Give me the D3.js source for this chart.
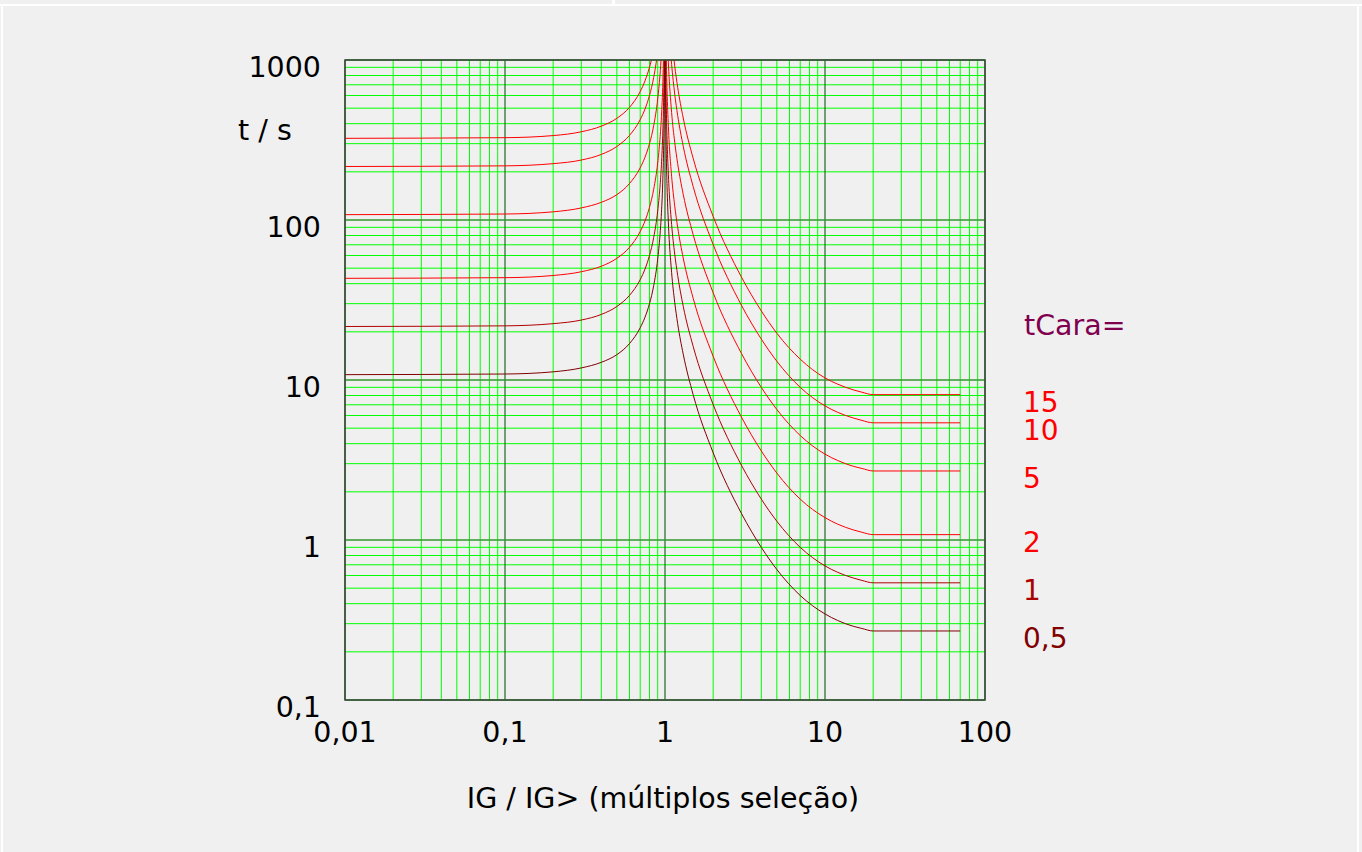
<!DOCTYPE html>
<meta charset="utf-8">
<style>

body {
  margin: 0;
  background: #f0f0f0;
}

svg {
  display: block;
  font-family: "DejaVu Sans", sans-serif;
}

.minor line {
  stroke: #00ff00;
  stroke-width: 1px;
}

.curves path {
  fill: none;
  stroke-width: 1px;
}

</style>
<svg width="1362" height="852"></svg>
<script src="https://cdn.jsdelivr.net/npm/d3@7"></script>
<script>

var xTicks = [0.01, 0.1, 1, 10, 100];
var xTickLabels = ["0,01", "0,1", "1", "10", "100"];
var yTicks = [0.1, 1, 10, 100, 1000];
var yTickLabels = ["0,1", "1", "10", "100", "1000"];

var tCara = [15, 10, 5, 2, 1, 0.5];
var tCaraLabels = ["15", "10", "5", "2", "1", "0,5"];
var tCaraColors = ["#ff0000", "#ff0000", "#ff0000", "#ff0000", "#b00000", "#800000"];

// IG/IG> below 1: [multiple, t in s]
var reset15 = [[0.01, 324], [0.1, 327], [0.2, 337], [0.3, 356], [0.4, 386], [0.5, 432], [0.6, 506],
  [0.7, 635], [0.75, 741], [0.8, 900], [0.82, 989], [0.83, 1041]];
var reset10 = [[0.01, 216], [0.1, 218], [0.2, 225], [0.3, 237], [0.4, 257], [0.5, 288], [0.6, 338],
  [0.7, 424], [0.75, 494], [0.8, 600], [0.85, 778], [0.88, 957], [0.89, 1039]];
var reset5 = [[0.01, 108], [0.1, 109], [0.2, 112.5], [0.3, 119], [0.4, 129], [0.5, 144], [0.6, 169],
  [0.7, 212], [0.75, 247], [0.8, 300], [0.85, 389], [0.9, 569], [0.93, 800], [0.94, 928], [0.95, 1108]];
var reset2 = [[0.01, 43.2], [0.1, 43.6], [0.2, 45], [0.3, 47.5], [0.4, 51.4], [0.5, 57.6], [0.6, 67.5],
  [0.7, 84.7], [0.75, 98.7], [0.8, 120], [0.85, 155.7], [0.9, 227], [0.93, 320], [0.95, 443],
  [0.97, 731], [0.98, 1091]];
var reset1 = [[0.01, 21.6], [0.1, 21.8], [0.2, 22.5], [0.3, 23.7], [0.4, 25.7], [0.5, 28.8], [0.6, 33.8],
  [0.7, 42.4], [0.75, 49.4], [0.8, 60], [0.85, 77.8], [0.9, 113.7], [0.93, 160], [0.95, 221.5],
  [0.97, 365.5], [0.98, 545.5], [0.985, 725], [0.99, 1085]];
var reset05 = [[0.01, 10.8], [0.1, 10.9], [0.2, 11.25], [0.3, 11.9], [0.4, 12.9], [0.5, 14.4], [0.6, 16.9],
  [0.7, 21.2], [0.75, 24.7], [0.8, 30], [0.85, 38.9], [0.9, 56.8], [0.93, 80], [0.95, 110.8],
  [0.97, 182.7], [0.98, 272.7], [0.99, 542.6], [0.993, 774], [0.995, 1083]];

// IG/IG> above 1
var trip15 = [[1.13, 1070], [1.15, 919.5], [1.2, 675.9], [1.3, 433.7], [1.5, 242.7], [2, 105.4], [3, 44.1],
  [4, 27.0], [5, 19.6], [7, 13.5], [10, 10.3], [12, 9.42], [15, 8.68], [17, 8.39], [20, 8.10], [70, 8.10]];
var trip10 = [[1.09, 1047], [1.1, 939], [1.15, 613], [1.2, 450.6], [1.3, 289.1], [1.5, 161.8], [2, 70.3],
  [3, 29.4], [4, 18.0], [5, 13.1], [7, 9.0], [10, 6.89], [12, 6.28], [15, 5.79], [17, 5.59], [20, 5.40],
  [70, 5.40]];
var trip5 = [[1.04, 1204], [1.05, 959], [1.1, 469], [1.15, 306.5], [1.2, 225.3], [1.3, 144.6], [1.5, 80.9],
  [2, 35.1], [3, 14.7], [4, 8.99], [5, 6.54], [7, 4.50], [10, 3.44], [12, 3.14], [15, 2.89], [17, 2.80],
  [20, 2.70], [70, 2.70]];
var trip2 = [[1.015, 1299], [1.02, 972], [1.03, 645], [1.05, 383.6], [1.1, 187.7], [1.15, 122.6], [1.2, 90.1],
  [1.3, 57.8], [1.5, 32.4], [2, 14.06], [3, 5.88], [4, 3.60], [5, 2.62], [7, 1.80], [10, 1.38],
  [12, 1.256], [15, 1.157], [17, 1.118], [20, 1.080], [70, 1.080]];
var trip1 = [[1.005, 1957], [1.01, 976], [1.02, 486], [1.03, 322.5], [1.05, 191.8], [1.1, 93.9], [1.15, 61.3],
  [1.2, 45.1], [1.3, 28.9], [1.5, 16.2], [2, 7.03], [3, 2.94], [4, 1.80], [5, 1.31], [7, 0.900],
  [10, 0.689], [12, 0.628], [15, 0.579], [17, 0.559], [20, 0.540], [70, 0.540]];
var trip05 = [[1.003, 1632], [1.005, 978], [1.01, 488], [1.02, 243], [1.03, 161.3], [1.05, 95.9], [1.1, 46.9],
  [1.15, 30.65], [1.2, 22.5], [1.3, 14.5], [1.5, 8.09], [2, 3.51], [3, 1.47], [4, 0.899], [5, 0.654],
  [7, 0.450], [10, 0.345], [12, 0.314], [15, 0.289], [17, 0.280], [20, 0.270], [70, 0.270]];

var resets = [reset15, reset10, reset5, reset2, reset1, reset05];
var trips = [trip15, trip10, trip5, trip2, trip1, trip05];

var svg = d3.select("svg");

var plotLeft = 345, plotRight = 985, plotTop = 60, plotBottom = 700;

var x = d3.scaleLog().domain([0.01, 100]).range([plotLeft, plotRight]);
var y = d3.scaleLog().domain([0.1, 1000]).range([plotBottom, plotTop]);

// page frame
svg.append("rect").attr("x", 0).attr("y", 4).attr("width", 1362).attr("height", 2).attr("fill", "#fff");
svg.append("rect").attr("x", 612).attr("y", 0).attr("width", 3).attr("height", 4).attr("fill", "#fff");
svg.append("rect").attr("x", 1).attr("y", 6).attr("width", 2).attr("height", 846).attr("fill", "#fff");
svg.append("rect").attr("x", 1357).attr("y", 6).attr("width", 2).attr("height", 846).attr("fill", "#fff");

// minor grid
var xMinor = x.ticks().filter(function(d) { return xTicks.indexOf(d) < 0; });
var yMinor = y.ticks().filter(function(d) { return yTicks.indexOf(d) < 0; });

var minor = svg.append("g").attr("class", "minor");
minor.selectAll(".vx").data(xMinor).enter().append("line")
    .attr("x1", x).attr("x2", x).attr("y1", plotTop).attr("y2", plotBottom);
minor.selectAll(".hy").data(yMinor).enter().append("line")
    .attr("y1", y).attr("y2", y).attr("x1", plotLeft).attr("x2", plotRight);

// decade grid
var major = svg.append("g");
major.selectAll(".vx").data(xTicks).enter().append("line")
    .attr("x1", x).attr("x2", x).attr("y1", plotTop).attr("y2", plotBottom)
    .attr("stroke", "#1e6a1e").attr("stroke-width", 1.2);
major.selectAll(".hy").data(yTicks).enter().append("line")
    .attr("y1", y).attr("y2", y).attr("x1", plotLeft).attr("x2", plotRight)
    .attr("stroke", "#2f9a2f").attr("stroke-width", 1.6);

// curves
svg.append("clipPath").attr("id", "plot")
  .append("rect").attr("x", plotLeft).attr("y", plotTop)
    .attr("width", plotRight - plotLeft).attr("height", plotBottom - plotTop);

var line = d3.line()
    .x(function(d) { return x(d[0]); })
    .y(function(d) { return y(d[1]); })
    .curve(d3.curveMonotoneX);

var curves = svg.append("g").attr("class", "curves").attr("clip-path", "url(#plot)");
tCara.forEach(function(k, i) {
  curves.append("path").attr("d", line(resets[i])).attr("stroke", tCaraColors[i]);
  curves.append("path").attr("d", line(trips[i])).attr("stroke", tCaraColors[i]);
});

// frame
svg.append("rect")
    .attr("x", plotLeft).attr("y", plotTop)
    .attr("width", plotRight - plotLeft).attr("height", plotBottom - plotTop)
    .attr("fill", "none").attr("stroke", "#3b4a3b").attr("stroke-width", 1.5);

// tick labels
svg.append("g").selectAll("text").data(xTicks).enter().append("text")
    .attr("x", x).attr("y", plotBottom + 42)
    .attr("text-anchor", "middle").attr("font-size", "28.5px").attr("fill", "#000")
    .text(function(d, i) { return xTickLabels[i]; });

svg.append("g").selectAll("text").data(yTicks).enter().append("text")
    .attr("x", plotLeft - 24).attr("y", function(d) { return y(d) + 17; })
    .attr("text-anchor", "end").attr("font-size", "28.5px").attr("fill", "#000")
    .text(function(d, i) { return yTickLabels[i]; });

// axis titles
svg.append("text").attr("x", 238).attr("y", 140).attr("font-size", "28.5px").text("t / s");
svg.append("text").attr("x", 663).attr("y", 808).attr("text-anchor", "middle")
    .attr("font-size", "28.5px").text("IG / IG> (múltiplos seleção)");

// legend on the right
svg.append("text").attr("x", 1024).attr("y", 335).attr("font-size", "28.5px")
    .attr("fill", "#80004f").text("tCara=");

svg.append("g").selectAll("text").data(tCara).enter().append("text")
    .attr("x", 1023)
    .attr("y", function(d, i) { return y(trips[i][trips[i].length - 1][1]) + 17; })
    .attr("font-size", "28px")
    .attr("fill", function(d, i) { return i == 4 ? "#aa0000" : tCaraColors[i]; })
    .text(function(d, i) { return tCaraLabels[i]; });

</script>
